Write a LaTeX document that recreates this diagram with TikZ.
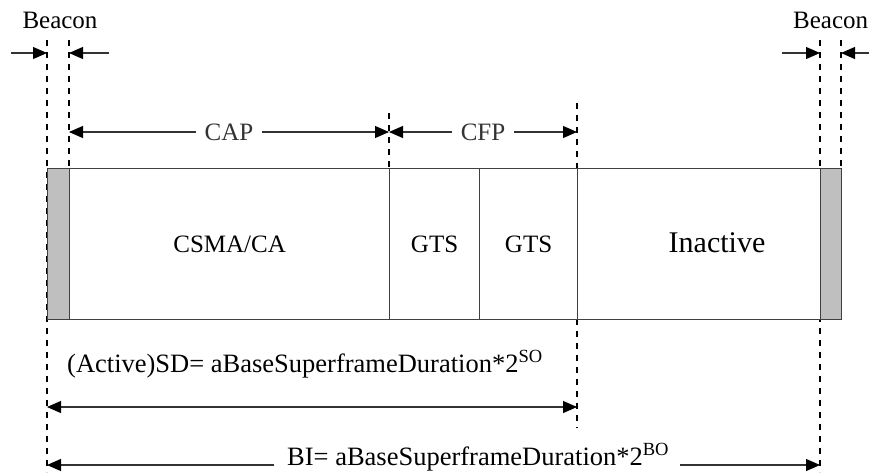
\documentclass[tikz,border=0pt]{standalone}
\usepackage{fontspec}
\setmainfont{Liberation Serif}
\usetikzlibrary{arrows.meta}
\begin{document}
\begin{tikzpicture}[x=1pt,y=-1pt,
  tip/.tip={Triangle[length=14pt,width=12pt,black]},
  vdash/.style={line width=1.3pt, dash pattern=on 6pt off 6pt, black},
  dimline/.style={line width=1.1pt, black!80},
  seg/.style={draw=black!75, line width=1.2pt, fill=white, minimum height=151pt, inner sep=0pt, anchor=north west, font=\fontsize{25}{30}\selectfont},
  beaconbox/.style={seg, fill=black!25},
  lbl/.style={font=\fontsize{25}{30}\selectfont, inner sep=0pt},
  big/.style={font=\fontsize{26.5}{30}\selectfont, inner sep=0pt}
]
\useasboundingbox (0,0) rectangle (869,472);

% dashed guide lines
\coordinate (d1t) at (47,40);   \coordinate (d1b) at (47,472);
\coordinate (d2t) at (69,40);   \coordinate (d2b) at (69,168);
\coordinate (d3t) at (389,113); \coordinate (d3b) at (389,168);
\coordinate (d4t) at (577,103); \coordinate (d4b) at (577,428);
\coordinate (d5t) at (820,40);  \coordinate (d5b) at (820,472);
\coordinate (d6t) at (841,40);  \coordinate (d6b) at (841,168);
\foreach \i in {1,...,6} \draw[vdash] (d\i t) -- (d\i b);

% superframe boxes
\node[beaconbox, minimum width=22pt] (b1) at (47,168) {};
\node[seg, minimum width=320pt] (cap) at (69,168) {CSMA/CA};
\node[seg, minimum width=90pt] (g1) at (389,168) {GTS};
\node[seg, minimum width=98pt] (g2) at (479,168) {GTS};
\node[seg, minimum width=243pt] (ina) at (577,168) {};
\node[font=\fontsize{30}{34}\selectfont, inner sep=0pt] (inat) at (717,243) {Inactive};
\node[beaconbox, minimum width=21pt] (b2) at (820,168) {};

% Beacon labels and arrows
\node[lbl, anchor=base] (bl) at (60,28) {Beacon};
\node[lbl, anchor=base west] (br) at (793,28) {Beacon};
\coordinate (a1s) at (11,53);  \coordinate (a1e) at (47,53);
\coordinate (a2s) at (109,53); \coordinate (a2e) at (69,53);
\coordinate (a3s) at (782,53); \coordinate (a3e) at (820,53);
\coordinate (a4s) at (869,53); \coordinate (a4e) at (841,53);
\draw[dimline,-tip] (a1s) -- (a1e);
\draw[dimline,-tip] (a2s) -- (a2e);
\draw[dimline,-tip] (a3s) -- (a3e);
\draw[dimline,-tip] (a4s) -- (a4e);

% CAP / CFP
\coordinate (c1) at (69,132); \coordinate (c2) at (389,132); \coordinate (c3) at (577,132);
\draw[dimline,tip-tip] (c1) -- node[lbl, fill=white, inner xsep=9pt, inner ysep=2pt] (capl) {CAP} (c2);
\draw[dimline,tip-tip] (c2) -- node[lbl, fill=white, inner xsep=9pt, inner ysep=2pt] (cfpl) {CFP} (c3);

% SD
\node[big, anchor=base west] (sdl) at (67,372) {(Active)SD= aBaseSuperframeDuration*2\textsuperscript{SO}};
\coordinate (s1) at (47,407); \coordinate (s2) at (577,407);
\draw[dimline,tip-tip] (s1) -- (s2);

% BI
\node[big, anchor=base west] (bil) at (287,465) {BI= aBaseSuperframeDuration*2\textsuperscript{BO}};
\coordinate (bi1) at (274,465); \coordinate (bi2) at (47,465);
\coordinate (bi3) at (680,465); \coordinate (bi4) at (820,465);
\draw[dimline,-tip] (bi1) -- (bi2);
\draw[dimline,-tip] (bi3) -- (bi4);
\end{tikzpicture}
\end{document}
